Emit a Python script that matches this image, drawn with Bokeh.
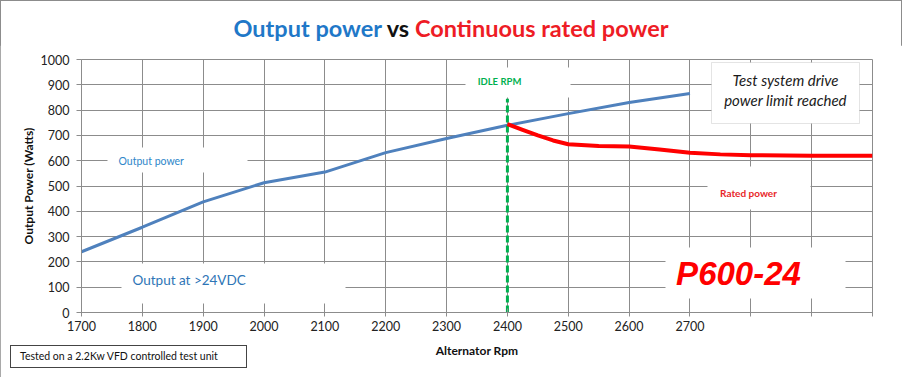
from bokeh.plotting import figure
from bokeh.models import Label, BoxAnnotation, FixedTicker, Range1d, Div
from bokeh.layouts import column
from bokeh.embed import file_html
from bokeh.resources import INLINE

# ---- data ----
rpm_output = [1700, 1800, 1900, 2000, 2100, 2200, 2300, 2400, 2500, 2600, 2700]
output_power = [240, 337, 437, 513, 555, 632, 688, 740, 786, 830, 866]
rpm_rated = [2400, 2425, 2450, 2475, 2500, 2550, 2600, 2650, 2700, 2750, 2800, 2900, 3000]
rated_power = [745, 722, 700, 680, 665, 658, 656, 644, 631, 625, 622, 620, 620]
idle_rpm = 2400
idle_marker_top = 845
x_ticks = list(range(1700, 3001, 100))
x_tick_labels = {t: (str(t) if t <= 2700 else "") for t in x_ticks}
y_ticks = list(range(0, 1001, 100))

W, H = 902, 377
TITLE_H = 45
FL, FR, FT, FB = 81, 872, 59, 312   # frame edges in page pixels
FONT = "Lato"
GRID = "#8c8c8c"

title = Div(width=W, height=TITLE_H, text=(
    '<div style="width:%dpx;text-align:center;font-family:Lato;font-weight:bold;'
    'font-size:23.5px;line-height:28px;padding-top:14px;white-space:nowrap">'
    '<span style="color:#1f78c8">Output power</span> '
    '<span style="color:#111111">vs</span> '
    '<span style="color:#ee1c25">Continuous rated power</span></div>' % W),
    styles={"margin": "0", "padding": "0"})

p = figure(width=W, height=H - TITLE_H, x_range=Range1d(1700, 3000), y_range=Range1d(0, 1000),
           output_backend="svg", toolbar_location=None,
           min_border_left=FL, min_border_right=W - FR, min_border_top=FT - TITLE_H,
           min_border_bottom=H - FB,
           background_fill_color="white", border_fill_color="white")

# page pixels -> data
def xd(px):
    return 1700 + (px - FL) / (FR - FL) * 1300

def yd(py):
    return (FB - py) / (FB - FT) * 1000

# axes
p.xaxis.ticker = FixedTicker(ticks=x_ticks)
p.xaxis.major_label_overrides = x_tick_labels
p.yaxis.ticker = FixedTicker(ticks=y_ticks)
for ax in (p.xaxis, p.yaxis):
    ax.axis_line_color = GRID
    ax.major_tick_line_color = GRID
    ax.minor_tick_line_color = None
    ax.major_label_text_font = FONT
    ax.major_label_text_font_size = "12.5px"
    ax.major_label_text_color = "#222222"
    ax.axis_label_text_font = FONT
    ax.axis_label_text_font_size = "12px"
    ax.axis_label_text_font_style = "bold"
    ax.axis_label_text_color = "#111111"
p.xaxis.major_tick_in = 4
p.xaxis.major_tick_out = 4
p.yaxis.major_tick_in = 0
p.yaxis.major_tick_out = 5
p.yaxis.major_label_standoff = 7
p.xaxis.major_label_standoff = 4
p.xaxis.axis_label = "Alternator Rpm"
p.yaxis.axis_label = "Output Power (Watts)"
p.xaxis.axis_label_standoff = 9
p.yaxis.axis_label_standoff = 2

p.grid.grid_line_color = GRID
p.grid.grid_line_width = 1
p.outline_line_color = GRID

# white label patches that interrupt the grid
patches = [(107, 247, 147, 172), (121, 345, 263, 303), (465, 570, 67, 97),
           (707, 810, 166, 209), (665, 845, 247, 298)]
for l, r, t, b in patches:
    p.add_layout(BoxAnnotation(left=xd(l), right=xd(r), top=yd(t), bottom=yd(b),
                               fill_color="white", fill_alpha=1, line_color=None,
                               level="underlay"))

# data lines
p.line(rpm_output, output_power, line_color="#4f81bd", line_width=3)
p.segment(x0=[idle_rpm], y0=[0], x1=[idle_rpm], y1=[idle_marker_top],
          line_color="#00b050", line_width=3, line_dash="7 3")
p.line(rpm_rated, rated_power, line_color="#ff0000", line_width=4, line_join="round")

# in-plot labels
def lab(x, y, text, size, color, align="left", style="normal", font=FONT):
    p.add_layout(Label(x=x, y=y, text=text, text_font=font, text_font_size=size,
                       text_color=color, text_align=align, text_baseline="middle",
                       text_font_style=style))

lab(xd(118), yd(160), "Output power", "10.5px", "#2e86c9")
lab(xd(132), yd(279), "Output at >24VDC", "13.5px", "#2e75b6")
lab(xd(499), yd(81), "IDLE RPM", "9.5px", "#00b050", align="center", style="bold")
lab(xd(748), yd(192), "Rated power", "10px", "#e8262a", align="center", style="bold")
lab(xd(738), yd(273), "P600-24", "33px", "#ff0000", align="center", style="bold italic",
    font="Liberation Sans")

# annotation box
p.add_layout(BoxAnnotation(left=xd(711), right=xd(859), top=yd(62), bottom=yd(123),
                           fill_color="white", fill_alpha=1, line_color="#a6a6a6",
                           line_width=1))
lab(xd(785), yd(79), "Test system drive", "15px", "#1a1a1a", align="center", style="italic")
lab(xd(785), yd(99), "power limit reached", "15px", "#1a1a1a", align="center", style="italic")

# bottom-left note box (overlapping the figure's lower margin)
note = Div(width=237, height=23,
           text='<div style="font-family:Lato;font-size:10.5px;color:#111;'
                'line-height:20px;padding-left:9px;white-space:nowrap">'
                'Tested on a 2.2Kw VFD controlled test unit</div>',
           styles={"margin-top": "-32px", "margin-left": "10px",
                   "border": "1.5px solid #444444", "background-color": "white",
                   "box-sizing": "border-box"})

layout = column(title, p, note, width=W, height=H,
                styles={"outline": "1.5px solid #8c8c8c", "outline-offset": "-1.5px",
                        "gap": "0px"})

open("out.html", "w").write(file_html(layout, INLINE))
